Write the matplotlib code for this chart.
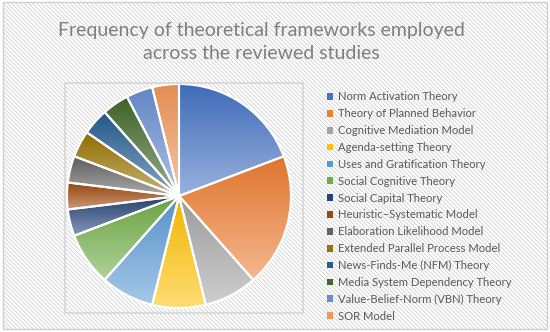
import numpy as np
import matplotlib
matplotlib.use('Agg')
import matplotlib.pyplot as plt
from matplotlib.patches import Rectangle, Patch
from matplotlib.colors import to_rgb

plt.rcParams['font.family'] = ['Lato', 'DejaVu Sans']
plt.rcParams['hatch.color'] = '#e3e3e3'
plt.rcParams['hatch.linewidth'] = 0.6

frameworks = ['Norm Activation Theory', 'Theory of Planned Behavior',
              'Cognitive Mediation Model', 'Agenda-setting Theory',
              'Uses and Gratification Theory', 'Social Cognitive Theory',
              'Social Capital Theory', 'Heuristic\u2013Systematic Model',
              'Elaboration Likelihood Model', 'Extended Parallel Process Model',
              'News-Finds-Me (NFM) Theory', 'Media System Dependency Theory',
              'Value-Belief-Norm (VBN) Theory', 'SOR Model']
counts = [5, 5, 2, 2, 2, 2, 1, 1, 1, 1, 1, 1, 1, 1]
colors = ['#4472C4', '#ED7D31', '#A5A5A5', '#FFC000', '#5B9BD5', '#70AD47',
          '#264478', '#9E480E', '#636363', '#997300', '#255E91', '#43682B',
          '#698ED0', '#F1975A']

fig = plt.figure(figsize=(5.5, 3.32), dpi=100)
fig.patch.set_facecolor('white')

# hatched background + borders
bg = Rectangle((0.005, 0.008), 0.99, 0.985, transform=fig.transFigure,
               facecolor='white', edgecolor='#d0d0d0', hatch='\\\\\\\\\\\\\\\\',
               lw=1, zorder=0)
fig.add_artist(bg)
plot_area = Rectangle((65 / 550, 1 - 313 / 332), 238 / 550, 230 / 332,
                      transform=fig.transFigure, facecolor='none',
                      edgecolor='#d6d6d6', lw=1.2, zorder=1)
fig.add_artist(plot_area)

ax = fig.add_axes([67 / 550, 24 / 332, 224 / 550, 224 / 332])
ax.set_facecolor('none')
wedges, _ = ax.pie(counts, startangle=90, counterclock=False,
                   wedgeprops=dict(facecolor='none', edgecolor='white', lw=1.5))

# vertical gradient inside each wedge (darker top, lighter bottom)
for w, c in zip(wedges, colors):
    w.set_zorder(3)
    v = w.get_path().vertices
    x0, x1 = v[:, 0].min(), v[:, 0].max()
    y0, y1 = v[:, 1].min(), v[:, 1].max()
    base = np.array(to_rgb(c))
    top = base * 0.94
    bottom = base + (1 - base) * 0.45
    t = np.linspace(0, 1, 64)[:, None]
    grad = top + (bottom - top) * t
    img = ax.imshow(grad[:, None, :].repeat(2, axis=1), extent=(x0, x1, y0, y1),
                    origin='upper', aspect='auto', zorder=2, interpolation='bilinear')
    img.set_clip_path(w)
ax.set_xlim(-1.0, 1.0)
ax.set_ylim(-1.0, 1.0)
ax.set_aspect('equal')
ax.axis('off')

fig.text(261 / 550, 1 - 42 / 332,
         'Frequency of theoretical frameworks employed\nacross the reviewed studies',
         ha='center', va='center', fontsize=14, color='#7f7f7f', linespacing=1.45)

handles = [Patch(facecolor=c, edgecolor='none') for c in colors]
leg = fig.legend(handles, frameworks, loc='upper left',
                 bbox_to_anchor=(322 / 550, 1 - 87 / 332), frameon=False,
                 fontsize=8.1, labelspacing=0.52, handlelength=0.55,
                 handleheight=0.55, handletextpad=0.45, borderaxespad=0)
for txt in leg.get_texts():
    txt.set_color('#595959')

fig.savefig('out.png', dpi=100)
